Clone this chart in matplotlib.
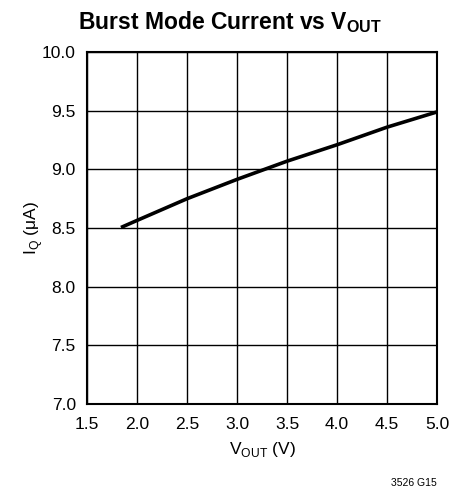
import matplotlib
matplotlib.use('agg')
import matplotlib.pyplot as plt

# curve
vout = [1.84, 2.0, 2.5, 3.0, 3.5, 4.0, 4.5, 5.0]
iq = [8.505, 8.565, 8.75, 8.915, 9.07, 9.21, 9.36, 9.49]

xticks = [1.5, 2.0, 2.5, 3.0, 3.5, 4.0, 4.5, 5.0]
yticks = [7.0, 7.5, 8.0, 8.5, 9.0, 9.5, 10.0]

plt.rcParams['font.family'] = ['Liberation Sans', 'DejaVu Sans']
plt.rcParams['mathtext.fontset'] = 'custom'
plt.rcParams['mathtext.rm'] = 'Liberation Sans'
plt.rcParams['mathtext.bf'] = 'Liberation Sans:bold'

fig = plt.figure(figsize=(4.65, 4.91), dpi=100)
ax = fig.add_axes([0.187, 0.177, 0.753, 0.717])

ax.plot(vout, iq, color='black', lw=2.6, solid_capstyle='butt')

ax.set_xlim(1.5, 5.0)
ax.set_ylim(7.0, 10.0)
ax.set_xticks(xticks)
ax.set_yticks(yticks)
ax.set_xticklabels(['%.1f' % v for v in xticks])
ax.set_yticklabels(['%.1f' % v for v in yticks])
ax.tick_params(length=0, labelsize=12.5)
ax.tick_params(axis='x', pad=9)
ax.tick_params(axis='y', pad=8)
ax.grid(True, color='black', lw=1.0)
for s in ax.spines.values():
	s.set_linewidth(1.5)

ax.set_xlabel(r'V$_{\mathrm{OUT}}$ (V)', fontsize=12.5, labelpad=6)
ax.set_ylabel(r'I$_{\mathrm{Q}}$ ($\mathrm{\mu}$A)', fontsize=12.5, labelpad=-2)
fig.text(0.495, 0.94, r'Burst Mode Current vs V$_{\mathbf{OUT}}$', fontsize=16.5,
	fontweight='bold', ha='center', va='baseline')

fig.text(0.94, 0.01, '3526 G15', fontsize=7.5, ha='right')

plt.savefig('out.png')
